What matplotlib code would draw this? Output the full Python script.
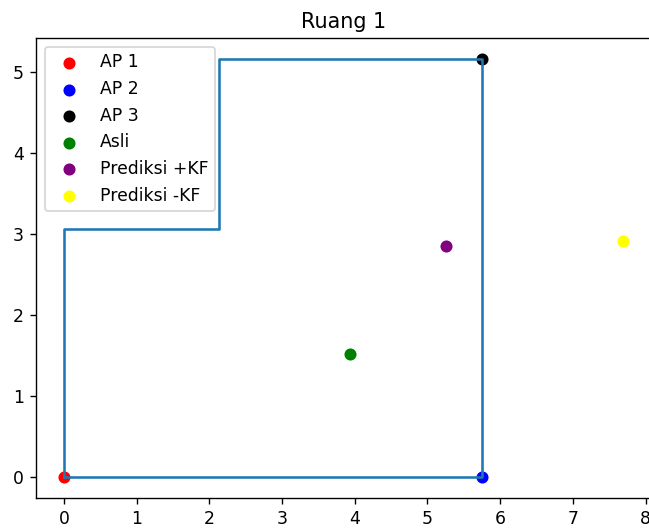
import matplotlib
matplotlib.use('Agg')
import matplotlib.pyplot as plt

# room outline
room_x = [0, 5.75, 5.75, 2.13, 2.13, 0, 0]
room_y = [0, 0, 5.16, 5.16, 3.06, 3.06, 0]

# access points and positions
labels = ['AP 1', 'AP 2', 'AP 3', 'Asli', 'Prediksi +KF', 'Prediksi -KF']
colors = ['red', 'blue', 'black', 'green', 'purple', 'yellow']
pts_x = [0, 5.75, 5.75, 3.93, 5.25, 7.69]
pts_y = [0, 0, 5.16, 1.52, 2.85, 2.91]

dpi = 124
fig = plt.figure(figsize=(649/dpi, 532/dpi), dpi=dpi)
ax = fig.add_axes([36/649, 34/532, 615/649, 460/532])

for x, y, c, lab in zip(pts_x, pts_y, colors, labels):
    ax.scatter(x, y, color=c, label=lab)
ax.plot(room_x, room_y)

ax.set_title('Ruang 1')
ax.legend(loc='upper left')

fig.savefig('out.png', dpi=dpi)
